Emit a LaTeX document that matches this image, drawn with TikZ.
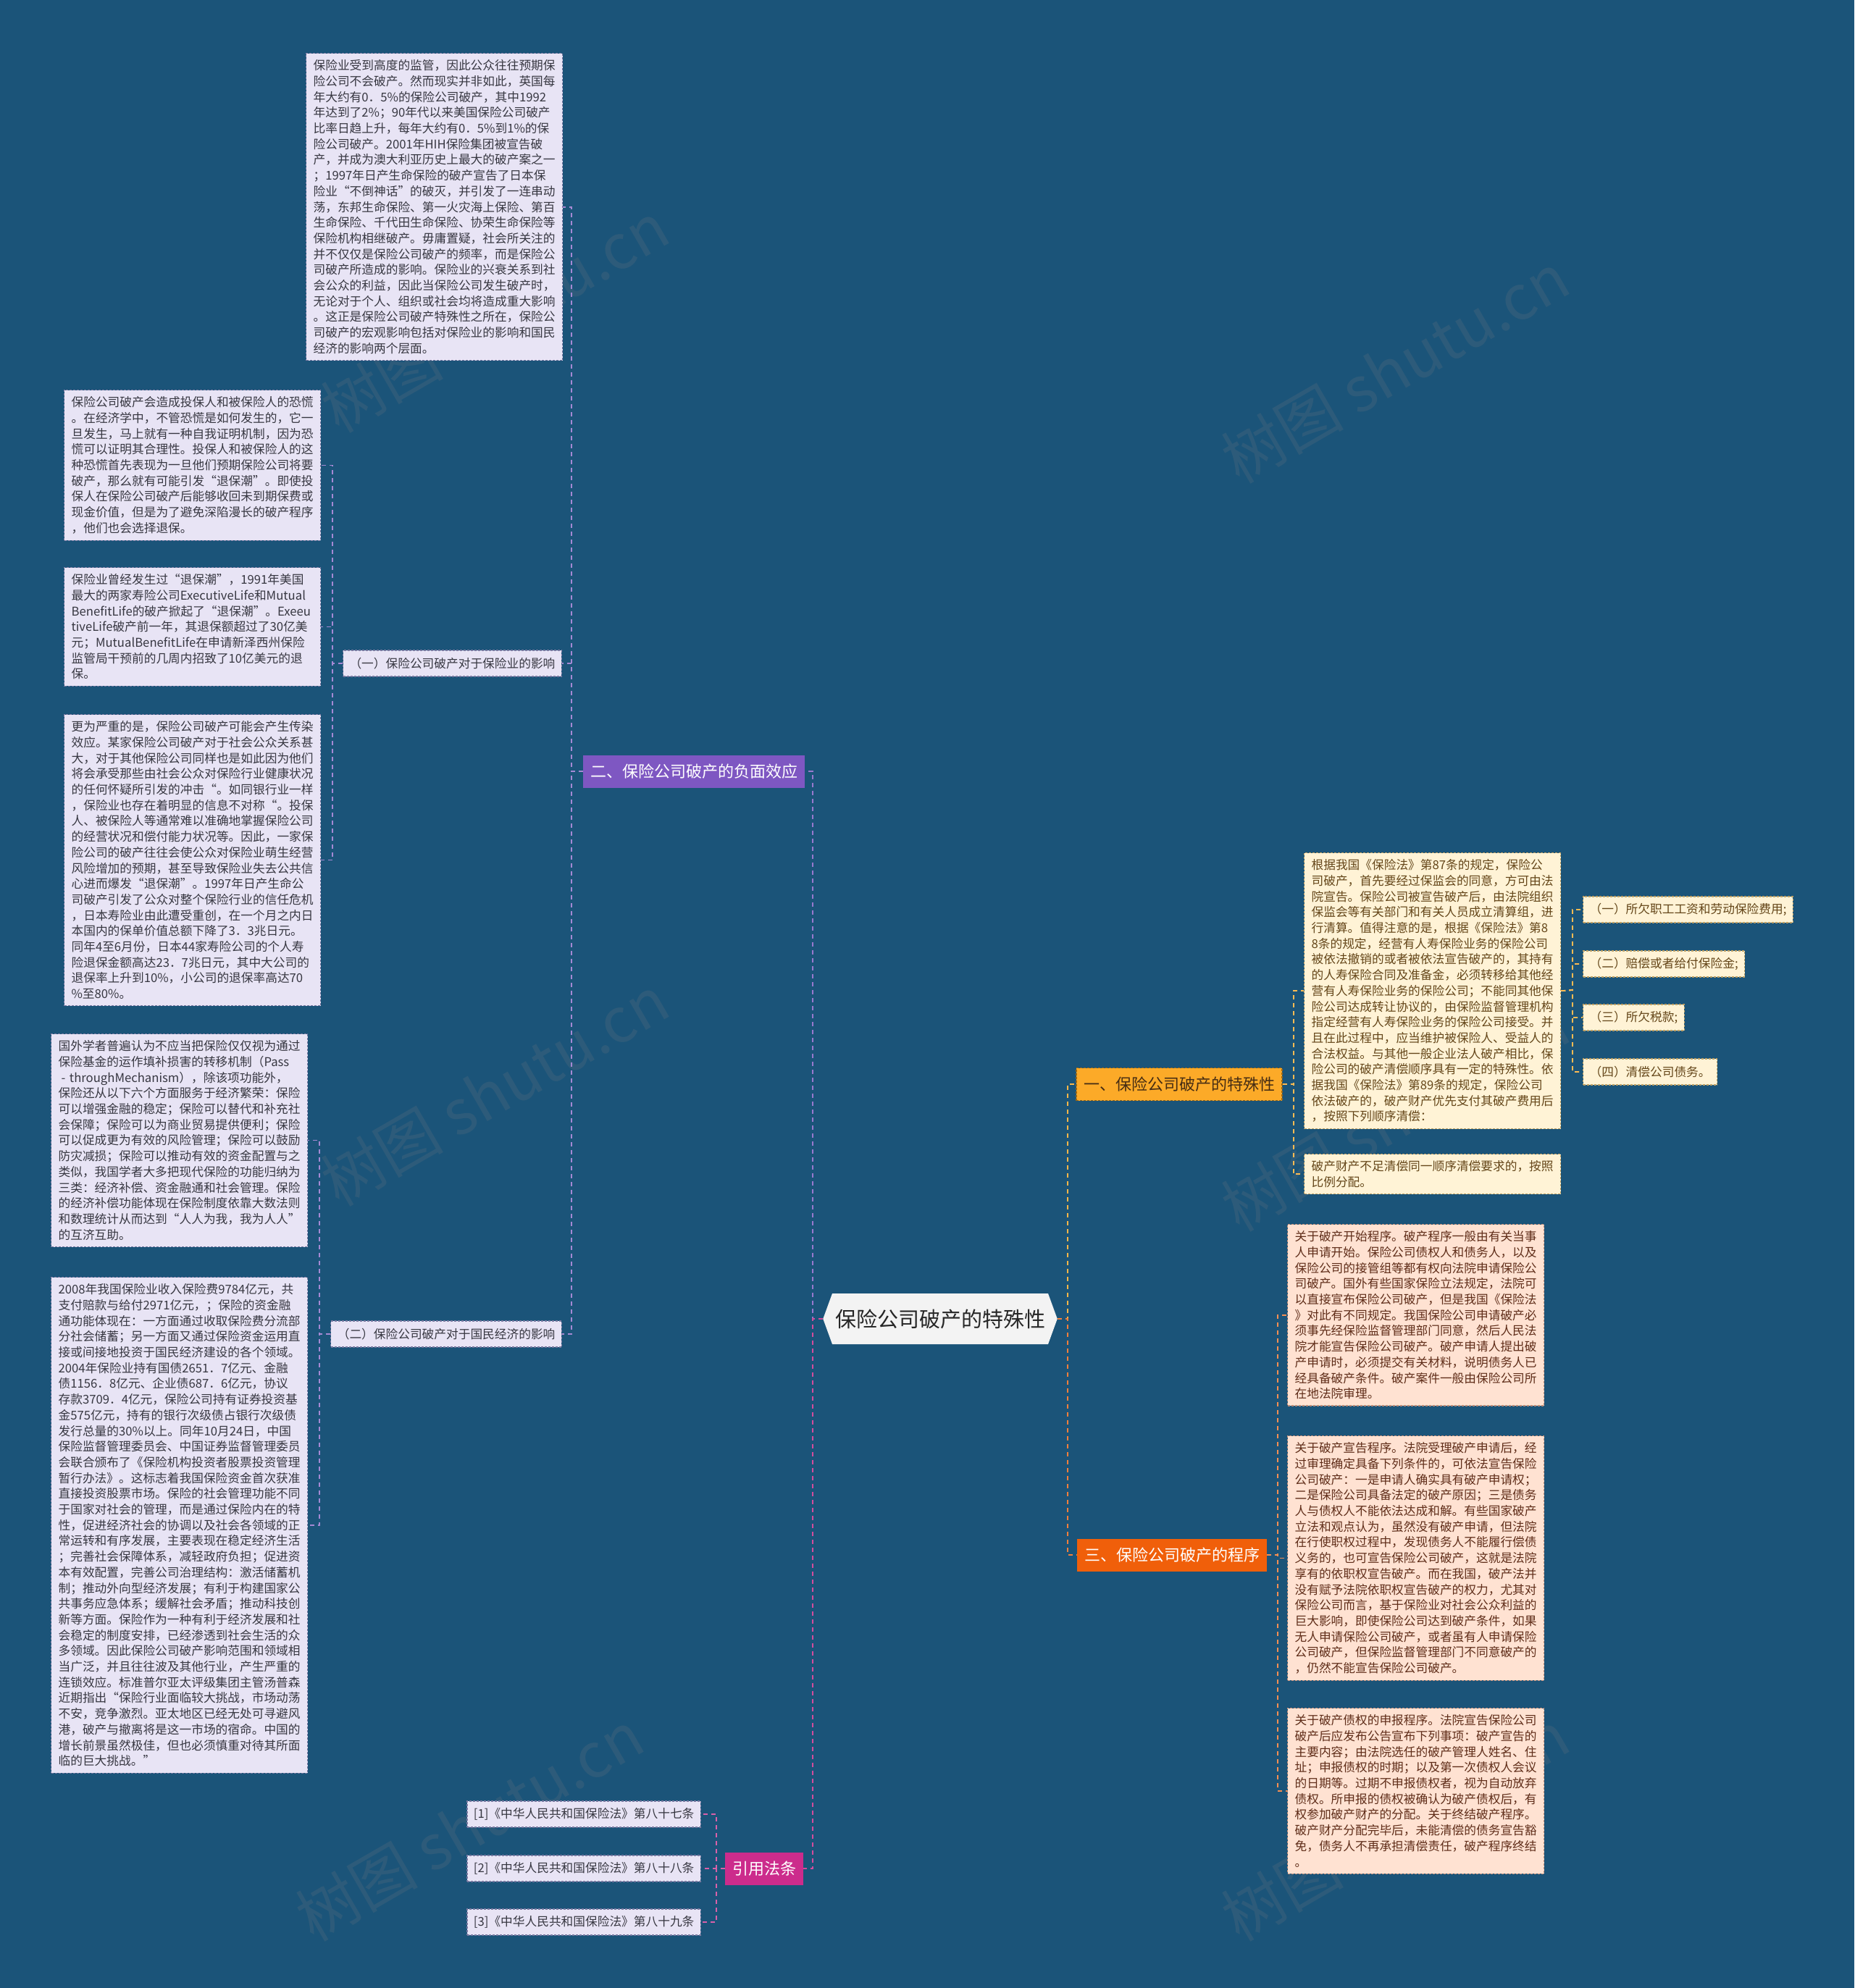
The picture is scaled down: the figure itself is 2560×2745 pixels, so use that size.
\documentclass[tikz,border=0pt]{standalone}
\usepackage{fontspec}
\setmainfont{Noto Sans CJK SC}
\usepackage{tikz}
\usepackage{xcolor}
\usetikzlibrary{shapes.symbols}

\definecolor{bg}{RGB}{27,84,121}
\definecolor{lav}{RGB}{232,228,245}
\definecolor{lavedge}{RGB}{120,120,160}
\definecolor{lavtext}{RGB}{55,55,65}
\definecolor{cream}{RGB}{255,243,214}
\definecolor{creamedge}{RGB}{190,160,100}
\definecolor{creamtext}{RGB}{100,70,25}
\definecolor{peach}{RGB}{255,226,210}
\definecolor{peachedge}{RGB}{190,140,120}
\definecolor{peachtext}{RGB}{95,45,25}
\definecolor{purp}{RGB}{126,87,194}
\definecolor{yel}{RGB}{252,170,40}
\definecolor{yeltext}{RGB}{70,45,20}
\definecolor{ored}{RGB}{240,95,10}
\definecolor{mag}{RGB}{204,44,140}
\definecolor{rootfill}{RGB}{243,243,243}

\newcommand{\bodysize}{\fontsize{16.7}{21.7}\selectfont}
\newcommand{\branchsize}{\fontsize{22}{26}\selectfont}
\newcommand{\rootsize}{\fontsize{29}{34}\selectfont}

\begin{document}
\begin{tikzpicture}[x=1pt,y=-1pt,
  txt/.style={anchor=north west,dashed,dash pattern=on 3pt off 2pt,line width=1.2pt,font=\bodysize,
    text width=334pt,align=left,inner xsep=10pt,inner ysep=9pt},
  lbox/.style={txt,fill=lav,draw=lavedge,text=lavtext},
  cbox/.style={txt,fill=cream,draw=creamedge,text=creamtext},
  pbox/.style={txt,fill=peach,draw=peachedge,text=peachtext},
  tag/.style={dashed,dash pattern=on 3pt off 2pt,line width=1.2pt,font=\bodysize,minimum height=36pt,inner xsep=9pt},
  ltag/.style={tag,fill=lav,draw=lavedge,text=lavtext},
  ctag/.style={tag,fill=cream,draw=creamedge,text=creamtext},
  branch/.style={font=\branchsize,minimum height=45pt,inner xsep=10pt,text=white},
  conn/.style={dash pattern=on 6pt off 5pt,line width=2.5pt},
  leaf/.style={dash pattern=on 6pt off 5pt,line width=1.6pt},
  wmark/.style={font=\fontsize{85}{90}\selectfont,text=gray,opacity=0.18,rotate=30}]
\fill[bg] (0,0) rectangle (2560,2745);
\useasboundingbox (0,0) rectangle (2560,2745);

% watermark
\foreach \wx/\wy [count=\i] in {683/438,1926/508,683/1506,1926/1541,648/2521,1926/2521}
  \node[wmark] (wm\i) at (\wx,\wy) {树图 shutu.cn};

% root
\node[shape=signal,signal to=east and west,signal pointer angle=140,fill=rootfill,
  font=\rootsize,text=black!85,minimum height=70pt,inner xsep=4pt] (root) at (1298,1821) {保险公司破产的特殊性};

% branches
\node[branch,fill=purp] (neg) at (958,1065) {二、保险公司破产的负面效应};
\node[branch,fill=mag] (cite) at (1055,2580) {引用法条};
\node[branch,fill=yel,text=yeltext,draw=yel!60!black,dashed,dash pattern=on 3pt off 2pt,line width=1.2pt] (spec) at (1628,1497) {一、保险公司破产的特殊性};
\node[branch,fill=ored] (proc) at (1618,2147) {三、保险公司破产的程序};

% left side
\node[lbox] (t0) at (422,73) {保险业受到高度的监管，因此公众往往预期保\\
险公司不会破产。然而现实并非如此，英国每\\
年大约有0．5\%的保险公司破产，其中1992\\
年达到了2\%；90年代以来美国保险公司破产\\
比率日趋上升，每年大约有0．5\%到1\%的保\\
险公司破产。2001年HIH保险集团被宣告破\\
产，并成为澳大利亚历史上最大的破产案之一\\
；1997年日产生命保险的破产宣告了日本保\\
险业“不倒神话”的破灭，并引发了一连串动\\
荡，东邦生命保险、第一火灾海上保险、第百\\
生命保险、千代田生命保险、协荣生命保险等\\
保险机构相继破产。毋庸置疑，社会所关注的\\
并不仅仅是保险公司破产的频率，而是保险公\\
司破产所造成的影响。保险业的兴衰关系到社\\
会公众的利益，因此当保险公司发生破产时，\\
无论对于个人、组织或社会均将造成重大影响\\
。这正是保险公司破产特殊性之所在，保险公\\
司破产的宏观影响包括对保险业的影响和国民\\
经济的影响两个层面。};

\node[ltag,anchor=east] (ind) at (776,916) {（一）保险公司破产对于保险业的影响};
\node[ltag,anchor=east] (eco) at (776,1842) {（二）保险公司破产对于国民经济的影响};

\node[lbox] (t1) at (88,538) {保险公司破产会造成投保人和被保险人的恐慌\\
。在经济学中，不管恐慌是如何发生的，它一\\
旦发生，马上就有一种自我证明机制，因为恐\\
慌可以证明其合理性。投保人和被保险人的这\\
种恐慌首先表现为一旦他们预期保险公司将要\\
破产，那么就有可能引发“退保潮”。即使投\\
保人在保险公司破产后能够收回未到期保费或\\
现金价值，但是为了避免深陷漫长的破产程序\\
，他们也会选择退保。};

\node[lbox] (t2) at (88,783) {保险业曾经发生过“退保潮”，1991年美国\\
最大的两家寿险公司ExecutiveLife和Mutual\\
BenefitLife的破产掀起了“退保潮”。Exeeu\\
tiveLife破产前一年，其退保额超过了30亿美\\
元；MutualBenefitLife在申请新泽西州保险\\
监管局干预前的几周内招致了10亿美元的退\\
保。};

\node[lbox] (t3) at (88,986) {更为严重的是，保险公司破产可能会产生传染\\
效应。某家保险公司破产对于社会公众关系甚\\
大，对于其他保险公司同样也是如此因为他们\\
将会承受那些由社会公众对保险行业健康状况\\
的任何怀疑所引发的冲击“。如同银行业一样\\
，保险业也存在着明显的信息不对称“。投保\\
人、被保险人等通常难以准确地掌握保险公司\\
的经营状况和偿付能力状况等。因此，一家保\\
险公司的破产往往会使公众对保险业萌生经营\\
风险增加的预期，甚至导致保险业失去公共信\\
心进而爆发“退保潮”。1997年日产生命公\\
司破产引发了公众对整个保险行业的信任危机\\
，日本寿险业由此遭受重创，在一个月之内日\\
本国内的保单价值总额下降了3．3兆日元。\\
同年4至6月份，日本44家寿险公司的个人寿\\
险退保金额高达23．7兆日元，其中大公司的\\
退保率上升到10\%，小公司的退保率高达70\\
\%至80\%。};

\node[lbox] (t4) at (70,1427) {国外学者普遍认为不应当把保险仅仅视为通过\\
保险基金的运作填补损害的转移机制（Pass\\
\hspace*{4pt}- throughMechanism），除该项功能外，\\
保险还从以下六个方面服务于经济繁荣：保险\\
可以增强金融的稳定；保险可以替代和补充社\\
会保障；保险可以为商业贸易提供便利；保险\\
可以促成更为有效的风险管理；保险可以鼓励\\
防灾减损；保险可以推动有效的资金配置与之\\
类似，我国学者大多把现代保险的功能归纳为\\
三类：经济补偿、资金融通和社会管理。保险\\
的经济补偿功能体现在保险制度依靠大数法则\\
和数理统计从而达到“人人为我，我为人人”\\
的互济互助。};

\node[lbox] (t5) at (70,1763) {2008年我国保险业收入保险费9784亿元，共\\
支付赔款与给付2971亿元，；保险的资金融\\
通功能体现在：一方面通过收取保险费分流部\\
分社会储蓄；另一方面又通过保险资金运用直\\
接或间接地投资于国民经济建设的各个领域。\\
2004年保险业持有国债2651．7亿元、金融\\
债1156．8亿元、企业债687．6亿元，协议\\
存款3709．4亿元，保险公司持有证券投资基\\
金575亿元，持有的银行次级债占银行次级债\\
发行总量的30\%以上。同年10月24日，中国\\
保险监督管理委员会、中国证券监督管理委员\\
会联合颁布了《保险机构投资者股票投资管理\\
暂行办法》。这标志着我国保险资金首次获准\\
直接投资股票市场。保险的社会管理功能不同\\
于国家对社会的管理，而是通过保险内在的特\\
性，促进经济社会的协调以及社会各领域的正\\
常运转和有序发展，主要表现在稳定经济生活\\
；完善社会保障体系，减轻政府负担；促进资\\
本有效配置，完善公司治理结构：激活储蓄机\\
制；推动外向型经济发展；有利于构建国家公\\
共事务应急体系；缓解社会矛盾；推动科技创\\
新等方面。保险作为一种有利于经济发展和社\\
会稳定的制度安排，已经渗透到社会生活的众\\
多领域。因此保险公司破产影响范围和领域相\\
当广泛，并且往往波及其他行业，产生严重的\\
连锁效应。标准普尔亚太评级集团主管汤普森\\
近期指出“保险行业面临较大挑战，市场动荡\\
不安，竞争激烈。亚太地区已经无处可寻避风\\
港，破产与撤离将是这一市场的宿命。中国的\\
增长前景虽然极佳，但也必须慎重对待其所面\\
临的巨大挑战。”};

% references
\node[ltag,anchor=east] (r1) at (968,2505) {[1]《中华人民共和国保险法》第八十七条};
\node[ltag,anchor=east] (r2) at (968,2580) {[2]《中华人民共和国保险法》第八十八条};
\node[ltag,anchor=east] (r3) at (968,2654) {[3]《中华人民共和国保险法》第八十九条};

% right side
\node[cbox] (law) at (1800,1177) {根据我国《保险法》第87条的规定，保险公\\
司破产，首先要经过保监会的同意，方可由法\\
院宣告。保险公司被宣告破产后，由法院组织\\
保监会等有关部门和有关人员成立清算组，进\\
行清算。值得注意的是，根据《保险法》第8\\
8条的规定，经营有人寿保险业务的保险公司\\
被依法撤销的或者被依法宣告破产的，其持有\\
的人寿保险合同及准备金，必须转移给其他经\\
营有人寿保险业务的保险公司；不能同其他保\\
险公司达成转让协议的，由保险监督管理机构\\
指定经营有人寿保险业务的保险公司接受。并\\
且在此过程中，应当维护被保险人、受益人的\\
合法权益。与其他一般企业法人破产相比，保\\
险公司的破产清偿顺序具有一定的特殊性。依\\
据我国《保险法》第89条的规定，保险公司\\
依法破产的，破产财产优先支付其破产费用后\\
，按照下列顺序清偿：};

\node[cbox] (ratio) at (1800,1593) {破产财产不足清偿同一顺序清偿要求的，按照\\
比例分配。};

\node[ctag,anchor=west] (o1) at (2185,1256) {（一）所欠职工工资和劳动保险费用;};
\node[ctag,anchor=west] (o2) at (2185,1331) {（二）赔偿或者给付保险金;};
\node[ctag,anchor=west] (o3) at (2185,1405) {（三）所欠税款;};
\node[ctag,anchor=west] (o4) at (2185,1480) {（四）清偿公司债务。};

\node[pbox] (p1) at (1777,1690) {关于破产开始程序。破产程序一般由有关当事\\
人申请开始。保险公司债权人和债务人，以及\\
保险公司的接管组等都有权向法院申请保险公\\
司破产。国外有些国家保险立法规定，法院可\\
以直接宣布保险公司破产，但是我国《保险法\\
》对此有不同规定。我国保险公司申请破产必\\
须事先经保险监督管理部门同意，然后人民法\\
院才能宣告保险公司破产。破产申请人提出破\\
产申请时，必须提交有关材料，说明债务人已\\
经具备破产条件。破产案件一般由保险公司所\\
在地法院审理。};

\node[pbox] (p2) at (1777,1982) {关于破产宣告程序。法院受理破产申请后，经\\
过审理确定具备下列条件的，可依法宣告保险\\
公司破产：一是申请人确实具有破产申请权；\\
二是保险公司具备法定的破产原因；三是债务\\
人与债权人不能依法达成和解。有些国家破产\\
立法和观点认为，虽然没有破产申请，但法院\\
在行使职权过程中，发现债务人不能履行偿债\\
义务的，也可宣告保险公司破产，这就是法院\\
享有的依职权宣告破产。而在我国，破产法并\\
没有赋予法院依职权宣告破产的权力，尤其对\\
保险公司而言，基于保险业对社会公众利益的\\
巨大影响，即使保险公司达到破产条件，如果\\
无人申请保险公司破产，或者虽有人申请保险\\
公司破产，但保险监督管理部门不同意破产的\\
，仍然不能宣告保险公司破产。};

\node[pbox] (p3) at (1777,2358) {关于破产债权的申报程序。法院宣告保险公司\\
破产后应发布公告宣布下列事项：破产宣告的\\
主要内容；由法院选任的破产管理人姓名、住\\
址；申报债权的时期；以及第一次债权人会议\\
的日期等。过期不申报债权者，视为自动放弃\\
债权。所申报的债权被确认为破产债权后，有\\
权参加破产财产的分配。关于终结破产程序。\\
破产财产分配完毕后，未能清偿的债务宣告豁\\
免，债务人不再承担清偿责任，破产程序终结\\
。};

% spines
\coordinate (ls) at (1122,1821);
\coordinate (rs) at (1474,1821);
\coordinate (ns) at (789,1065);
\coordinate (is) at (459,916);
\coordinate (es) at (441,1842);
\coordinate (cs) at (989,2580);
\coordinate (ss) at (1786,1497);
\coordinate (os) at (2171,1367);
\coordinate (ps) at (1764,2147);

% connectors
\draw[conn,purp!80!white] (root.west) -- (ls) |- (neg.east);
\draw[conn,mag!85!white] (root.west) -- (ls) |- (cite.east);
\draw[conn,yel!85!white] (root.east) -- (rs) |- (spec.west);
\draw[conn,ored!80!white] (root.east) -- (rs) |- (proc.west);
\draw[leaf,purp!70!white] (neg.west) -- (ns) |- (t0.east);
\draw[leaf,purp!70!white] (neg.west) -- (ns) |- (ind.east);
\draw[leaf,purp!70!white] (neg.west) -- (ns) |- (eco.east);
\foreach \n in {t1,t2,t3}
  \draw[leaf,purp!70!white] (ind.west) -- (is) |- (\n.east);
\foreach \n in {t4,t5}
  \draw[leaf,purp!70!white] (eco.west) -- (es) |- (\n.east);
\foreach \n in {r1,r2,r3}
  \draw[leaf,mag!75!white] (cite.west) -- (cs) |- (\n.east);
\foreach \n in {law,ratio}
  \draw[leaf,yel!80!white] (spec.east) -- (ss) |- (\n.west);
\foreach \n in {o1,o2,o3,o4}
  \draw[leaf,yel!80!white] (law.east) -- (os) |- (\n.west);
\foreach \n in {p1,p2,p3}
  \draw[leaf,ored!70!white] (proc.east) -- (ps) |- (\n.west);
\end{tikzpicture}
\end{document}
